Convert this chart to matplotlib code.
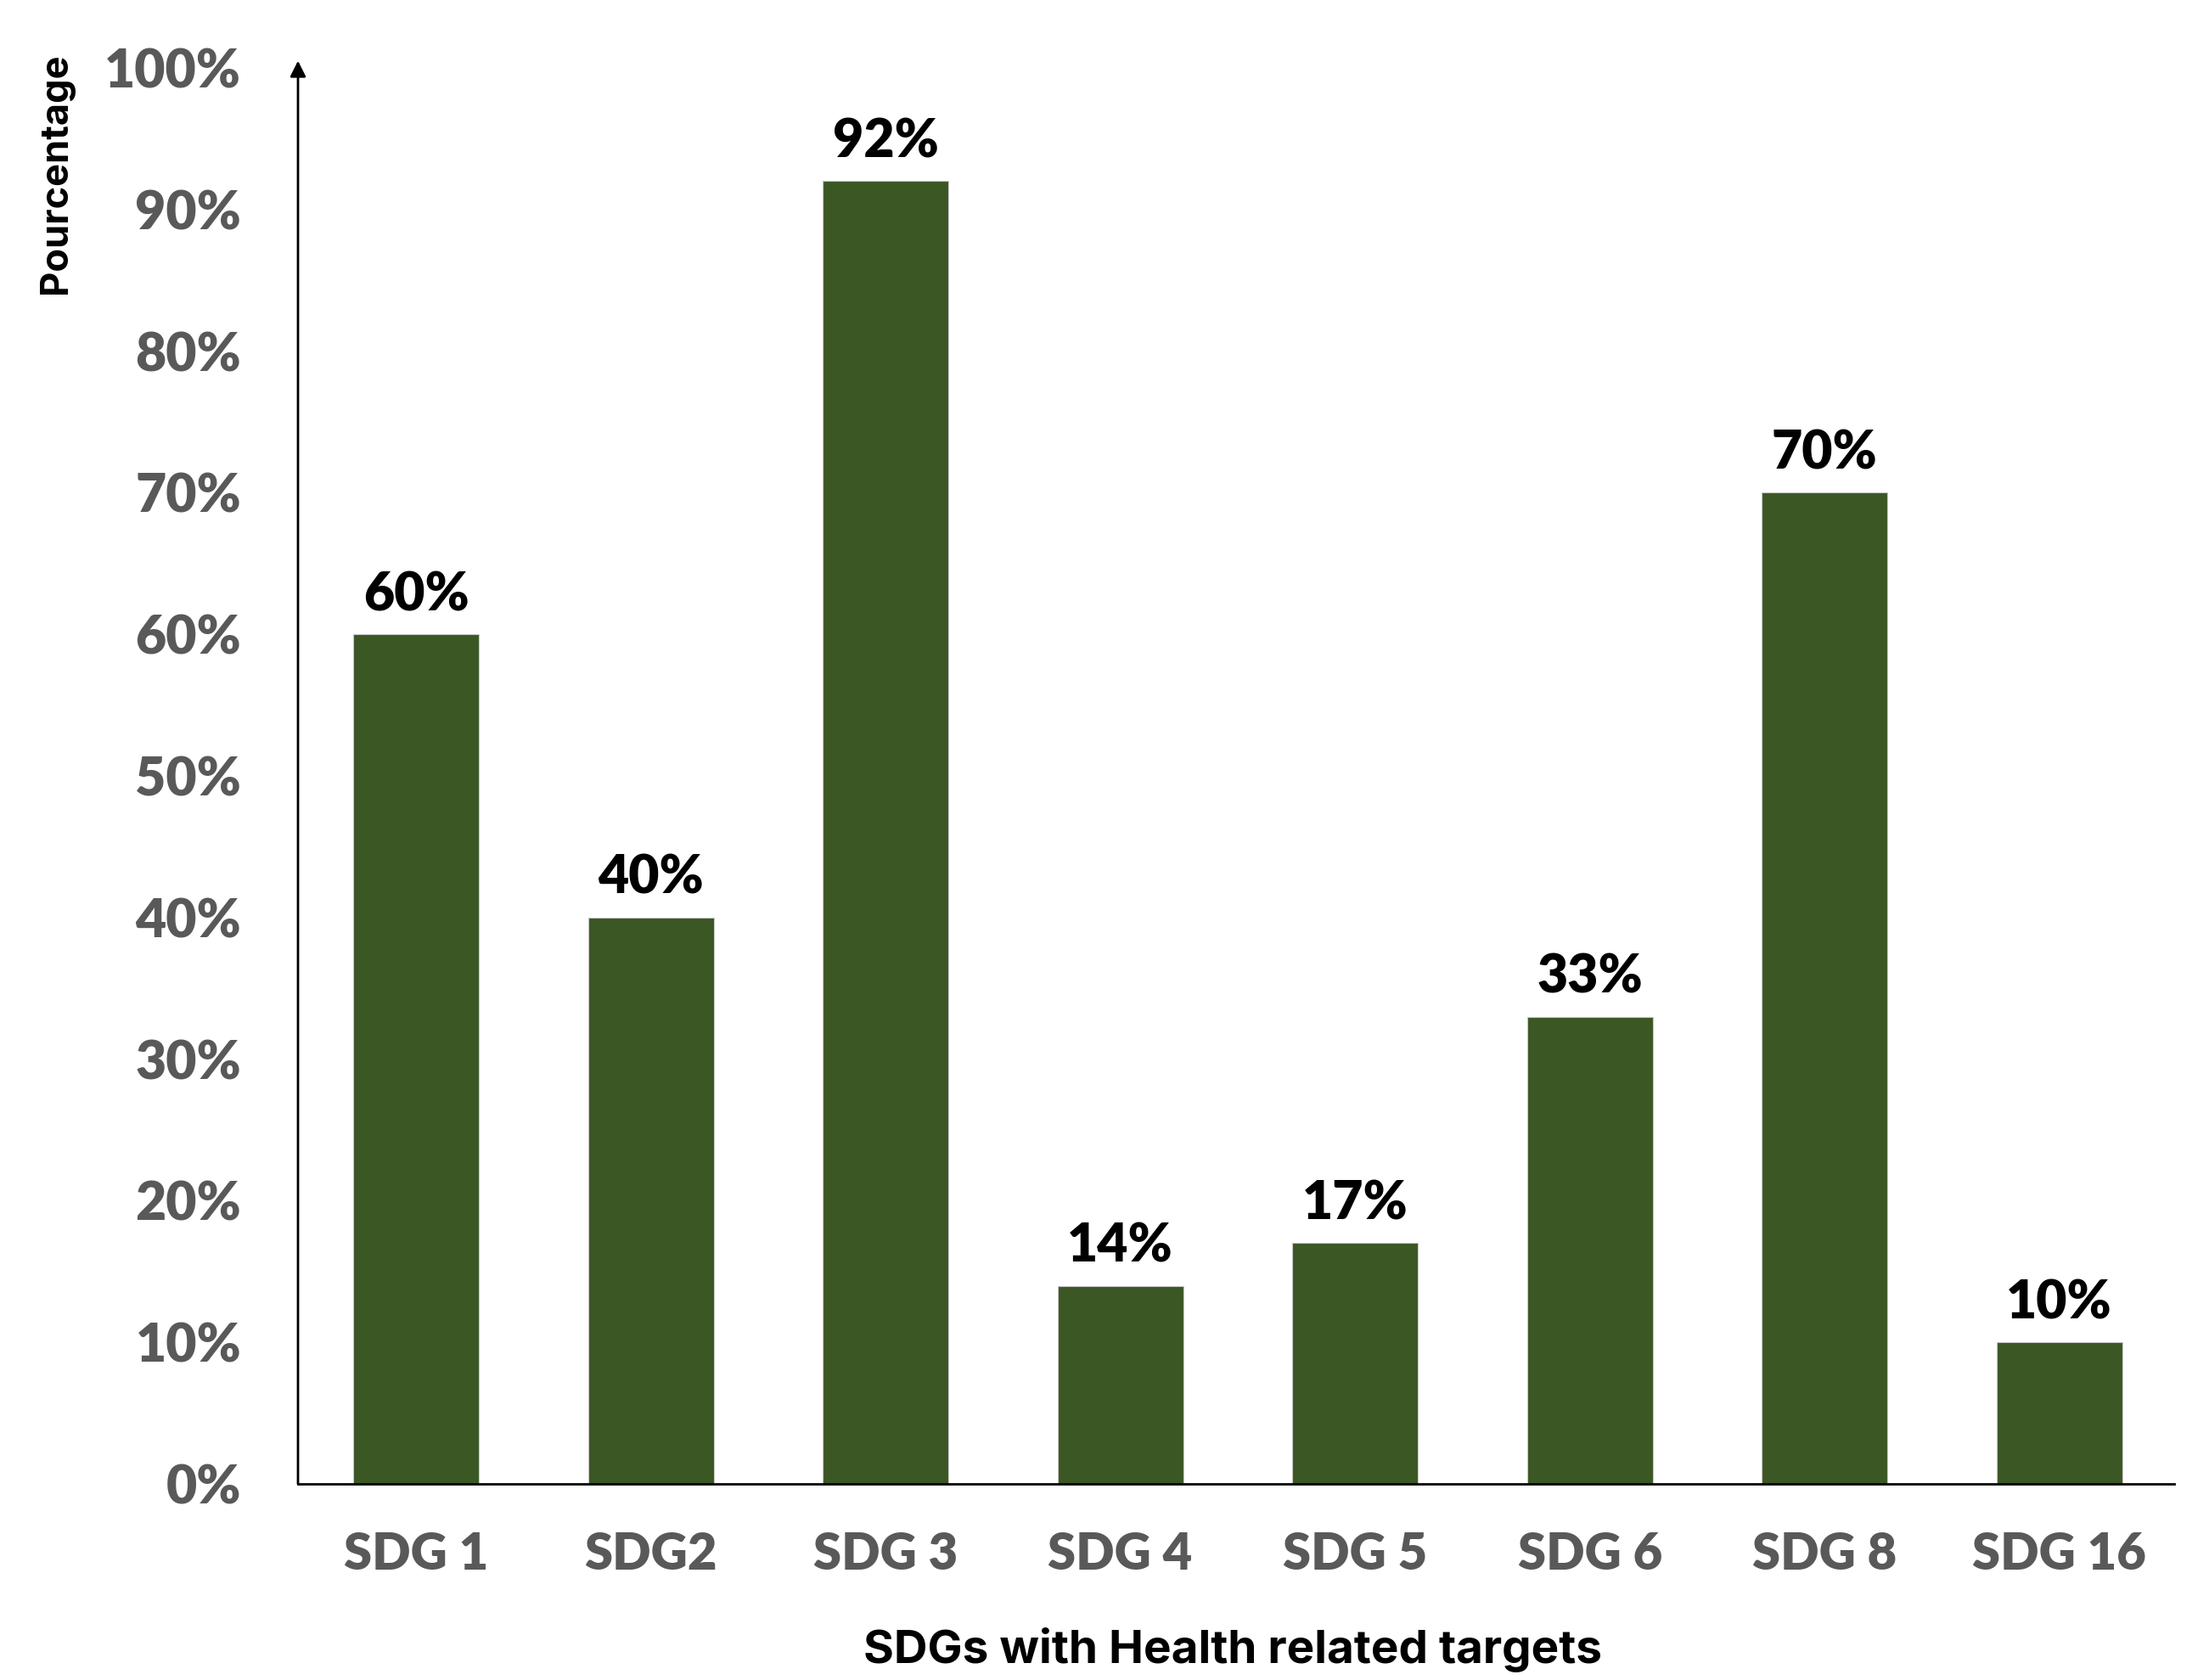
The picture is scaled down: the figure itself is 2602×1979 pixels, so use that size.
import matplotlib
matplotlib.use("Agg")
import matplotlib.pyplot as plt

categories = ["SDG 1", "SDG2", "SDG 3", "SDG 4", "SDG 5", "SDG 6", "SDG 8", "SDG 16"]
values = [60, 40, 92, 14, 17, 33, 70, 10]
yticks = [0, 10, 20, 30, 40, 50, 60, 70, 80, 90, 100]
ytick_labels = [f"{t}%" for t in yticks]

bar_color = "#3b5724"
grey = "#595959"
tick_font = "Lato"
label_font = "Inter"

fig = plt.figure(figsize=(26.02, 19.79), dpi=100)
ax = fig.add_axes([0.1349, 0.1167, 0.8494, 0.8429])

x = list(range(len(categories)))
bars = ax.bar(x, values, width=0.535, color=bar_color, edgecolor="#c8c8c8", linewidth=0.8, zorder=2)

for xi, v in zip(x, values):
    ax.annotate(f"{v}%", xy=(xi, v), xytext=(0, 13), textcoords="offset points",
                ha="center", va="bottom", fontsize=45, fontweight="heavy",
                family=tick_font, color="black")

ax.set_xlim(-0.503, 7.49)
ax.set_ylim(0, 100)
ax.set_xticks(x)
ax.set_xticklabels(categories, fontsize=43, fontweight="heavy", family=tick_font, color=grey)
ax.set_yticks(yticks)
ax.set_yticklabels(ytick_labels, fontsize=45, fontweight="heavy", family=tick_font, color=grey)
ax.tick_params(axis="x", length=0, pad=40)
ax.tick_params(axis="y", length=0, pad=48)

for s in ["top", "right", "left"]:
    ax.spines[s].set_visible(False)
ax.spines["bottom"].set_linewidth(2)
ax.spines["bottom"].set_color("black")

# left axis with arrow head
ax.annotate("", xy=(0, 1.005), xytext=(0, 0), xycoords="axes fraction",
            arrowprops=dict(arrowstyle="-|>", lw=2, color="black", mutation_scale=28,
                            shrinkA=0, shrinkB=0))

fig.text(0.0255, 0.897, "Pourcentage", rotation=90, ha="center", va="center",
         fontsize=32.5, fontweight="bold", family=label_font)
fig.text(0.558, 0.018, "SDGs with Health related targets", ha="center", va="center",
         fontsize=39.5, fontweight="bold", family=label_font)

fig.savefig("out.png", dpi=100, facecolor="white")
